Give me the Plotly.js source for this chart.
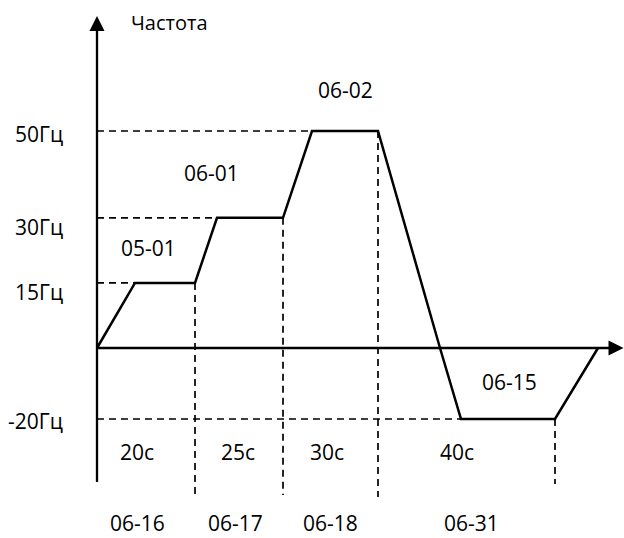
<!DOCTYPE html>
<html><head><meta charset="utf-8">
<script src="https://cdn.plot.ly/plotly-3.0.1.min.js"></script>
<style>html,body{margin:0;padding:0;background:#fff}</style>
</head><body><div id="chart" style="width:624px;height:538px"></div>
<script>
// ---- data (schematic time units, frequency in Hz) ----
const posTime = [0, 7.6, 19.6, 24, 37.2, 43, 56.2, 68.6];
const posFreq = [0, 15, 15, 30, 30, 50, 50, 0];
const negTime = [68.6, 72.8, 91.6, 100.2];
const negFreq = [0, -20, -20, 0];

const levelLabels = ['50Гц', '30Гц', '15Гц', '-20Гц'];
const levelFreq = [50, 30, 15, -20];
const levelEndTime = [43, 24, 7.6, 72.8];

const boundTime = [19.6, 37.2, 56.2, 91.6];
const boundTopFreq = [15, 30, 50, -20];

const rampLabels = ['05-01', '06-01', '06-02', '06-15'];
const timeLabels = ['20с', '25с', '30с', '40с'];
const timeParams = ['06-16', '06-17', '06-18', '06-31'];
const axisTitle = 'Частота';

// ---- layout geometry ----
const W = 624, H = 538;
const X0 = 97, XS = 5;              // px of t=0, px per time unit
const Y0 = 348, YSP = 4.34, YSN = 3.55; // px of 0 Hz, px per Hz above / below zero
const xr = [-X0 / XS, (W - X0) / XS];
const yr = [-(H - Y0) / YSP, Y0 / YSP];
const y2r = [-(H - Y0) / YSN, Y0 / YSN];
const pyToY = p => (Y0 - p) / YSP;
const pyToY2 = p => (Y0 - p) / YSN;
const pxToX = p => (p - X0) / XS;

const BLACK = '#000000';
const solid = {color: BLACK, width: 2.5};
const dashed = {color: BLACK, width: 1.7, dash: '7px,5px'};
const FONT = '"Open Sans", "Noto Sans", sans-serif';

const traces = [];
// axes
traces.push({x: [0, 0], y: [pyToY(482), pyToY(28)], yaxis: 'y', mode: 'lines', line: {color: BLACK, width: 2.3}, hoverinfo: 'skip'});
traces.push({x: [0, pxToX(613)], y: [0, 0], yaxis: 'y', mode: 'lines', line: {color: BLACK, width: 2.3}, hoverinfo: 'skip'});
traces.push({x: [0], y: [pyToY(16)], yaxis: 'y', mode: 'markers', cliponaxis: false,
  marker: {symbol: 'arrow-up', size: 15, color: BLACK, line: {width: 0}}, hoverinfo: 'skip'});
traces.push({x: [pxToX(623.5)], y: [0], yaxis: 'y', mode: 'markers', cliponaxis: false,
  marker: {symbol: 'arrow-right', size: 15, color: BLACK, line: {width: 0}}, hoverinfo: 'skip'});

// horizontal guides
levelFreq.forEach((f, i) => {
  traces.push({x: [0, levelEndTime[i]], y: [f, f], yaxis: f >= 0 ? 'y' : 'y2', mode: 'lines', line: dashed, hoverinfo: 'skip'});
});
// vertical guides
const guideBottomPx = [497, 495, 497, 484];
boundTime.forEach((t, i) => {
  const f = boundTopFreq[i];
  if (f >= 0) traces.push({x: [t, t], y: [f, pyToY(guideBottomPx[i])], yaxis: 'y', mode: 'lines', line: dashed, hoverinfo: 'skip'});
  else traces.push({x: [t, t], y: [f, pyToY2(guideBottomPx[i])], yaxis: 'y2', mode: 'lines', line: dashed, hoverinfo: 'skip'});
});

// profile
traces.push({x: posTime, y: posFreq, yaxis: 'y', mode: 'lines', line: solid, hoverinfo: 'skip'});
traces.push({x: negTime, y: negFreq, yaxis: 'y2', mode: 'lines', line: solid, hoverinfo: 'skip'});

// ---- text ----
const ann = [];
function A(text, px, py, xanchor, size) {
  ann.push({text: text, xref: 'paper', yref: 'paper', x: px / W, y: 1 - py / H,
    xanchor: xanchor || 'center', yanchor: 'middle', showarrow: false,
    font: {family: FONT, size: size || 21, color: BLACK}});
}
A(axisTitle, 169, 22, 'center', 20);
const levelLabelPy = [134, 227, 292, 421];
levelLabels.forEach((s, i) => A(s, 65, levelLabelPy[i], 'right'));
const rampPos = [[148, 248], [211, 173], [345, 90], [509, 382]];
rampLabels.forEach((s, i) => A(s, rampPos[i][0], rampPos[i][1]));
const timeLabelPx = [137, 238, 327, 457];
timeLabels.forEach((s, i) => A(s, timeLabelPx[i], 452));
const timeParamPx = [137, 235, 330, 471];
timeParams.forEach((s, i) => A(s, timeParamPx[i], 523));

const layout = {
  width: W, height: H,
  margin: {l: 0, r: 0, t: 0, b: 0, pad: 0},
  paper_bgcolor: '#ffffff', plot_bgcolor: '#ffffff',
  showlegend: false,
  xaxis: {range: xr, visible: false, fixedrange: true},
  yaxis: {range: yr, visible: false, fixedrange: true},
  yaxis2: {range: y2r, visible: false, overlaying: 'y', fixedrange: true},
  annotations: ann
};
Plotly.newPlot('chart', traces, layout, {staticPlot: true, displayModeBar: false});
</script>
</body></html>
